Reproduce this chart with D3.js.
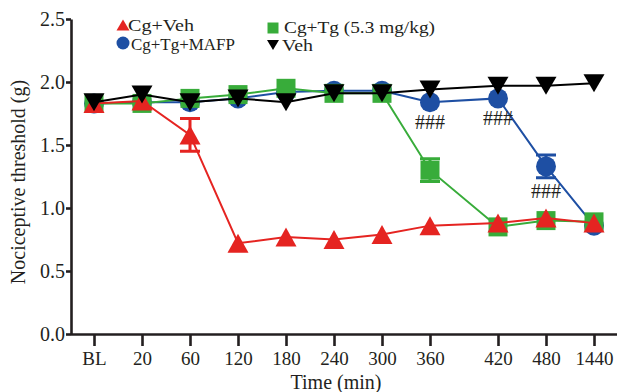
<!DOCTYPE html>
<html>
<head>
<meta charset="utf-8">
<script src="https://cdn.jsdelivr.net/npm/d3@7"></script>
<style>
  body { margin: 0; background: #fff; }
  text { font-family: "Liberation Serif", "Times New Roman", serif; fill: #231f20; }
</style>
</head>
<body>
<script>
// time points (x categories)
const timeLabels = ["BL", "20", "60", "120", "180", "240", "300", "360", "420", "480", "1440"];
const yTicks = [0, 0.5, 1.0, 1.5, 2.0, 2.5];

// nociceptive threshold (g)
const cgVeh      = [1.83, 1.85, 1.58, 0.72, 0.77, 0.75, 0.79, 0.86, 0.88, 0.92, 0.88];
const cgVehErr   = [0, 0, 0.13, 0, 0, 0, 0, 0, 0, 0, 0];
const cgTg       = [1.83, 1.83, 1.87, 1.90, 1.95, 1.91, 1.91, 1.30, 0.85, 0.90, 0.89];
const cgTgErr    = [0, 0, 0, 0, 0, 0, 0, 0.09, 0, 0, 0];
const cgTgMafp   = [1.83, 1.84, 1.84, 1.87, 1.92, 1.93, 1.93, 1.84, 1.87, 1.33, 0.86];
const cgTgMafpErr= [0, 0, 0, 0, 0, 0, 0, 0, 0, 0.09, 0];
const veh        = [1.84, 1.90, 1.84, 1.87, 1.84, 1.91, 1.91, 1.94, 1.97, 1.97, 1.99];

// "###" marks on Cg+Tg+MAFP
const sigIdx = [7, 8, 9];
const sigText = "###";

const width = 623, height = 392;
const serif = "Liberation Serif, Times New Roman, serif";

const svg = d3.select("body").append("svg")
  .attr("width", width)
  .attr("height", height);

// x is categorical but with a wider gap between 360 and 420
const x = d3.scaleLinear()
  .domain([0, 7, 8, 10])
  .range([94, 430, 498, 594]);

const y = d3.scaleLinear()
  .domain([0, 2.5])
  .range([334, 19]);

// markers (centered on bounding box)
function triUp(w, h) { return `M0,${-h/2}L${w/2},${h/2}L${-w/2},${h/2}Z`; }
function triDown(w, h) { return `M0,${h/2}L${w/2},${-h/2}L${-w/2},${-h/2}Z`; }
function square(s) { return `M${-s/2},${-s/2}h${s}v${s}h${-s}Z`; }
function circle(r) { return d3.symbol(d3.symbolCircle, Math.PI * r * r)(); }

const series = [
  { name: "Cg+Tg+MAFP", vals: cgTgMafp, err: cgTgMafpErr, color: "#1e4fa3", mark: circle(10), legMark: circle(6.5) },
  { name: "Cg+Tg (5.3 mg/kg)", vals: cgTg, err: cgTgErr, color: "#38ac3a", mark: square(19), legMark: square(11) },
  { name: "Cg+Veh", vals: cgVeh, err: cgVehErr, color: "#e52421", mark: triUp(21, 19), legMark: triUp(13, 11) },
  { name: "Veh", vals: veh, err: null, color: "#000000", mark: triDown(21, 18), legMark: triDown(12, 10) }
];

// axes
const xAxis = d3.axisBottom(x)
  .tickValues(d3.range(timeLabels.length))
  .tickFormat(i => timeLabels[i])
  .tickSize(12)
  .tickPadding(6)
  .tickSizeOuter(0);

const gx = svg.append("g")
  .attr("transform", `translate(0,${y(0)})`)
  .call(xAxis)
  .attr("font-family", serif);
gx.select(".domain").attr("d", `M71,0.5H617`);

const yAxis = d3.axisLeft(y)
  .tickValues(yTicks)
  .tickFormat(d3.format(".1f"))
  .tickSize(5)
  .tickPadding(1)
  .tickSizeOuter(0);

const gy = svg.append("g")
  .attr("transform", "translate(71,0)")
  .call(yAxis)
  .attr("font-family", serif);

svg.selectAll(".domain, .tick line")
  .attr("stroke", "#231f20")
  .attr("stroke-width", 2.6);
gx.selectAll(".tick text").attr("font-size", 19).style("font-family", serif);
gy.selectAll(".tick text").attr("font-size", 20).style("font-family", serif);

// axis titles
svg.append("text")
  .attr("x", 336).attr("y", 389)
  .attr("text-anchor", "middle")
  .attr("font-size", 20)
  .text("Time (min)");

svg.append("text")
  .attr("transform", "translate(25,182) rotate(-90)")
  .attr("text-anchor", "middle")
  .attr("font-size", 20)
  .text("Nociceptive threshold (g)");

// lines, error bars, markers
const line = d3.line()
  .x((d, i) => x(i))
  .y(d => y(d));

series.forEach(s => {
  const g = svg.append("g");
  g.append("path")
    .attr("d", line(s.vals))
    .attr("fill", "none")
    .attr("stroke", s.color)
    .attr("stroke-width", 2);

  if (s.err) {
    const eb = s.vals.map((v, i) => ({ i, v, e: s.err[i] })).filter(d => d.e > 0);
    eb.forEach(d => {
      const cx = x(d.i), y1 = y(d.v + d.e), y2 = y(d.v - d.e);
      g.append("path")
        .attr("d", `M${cx},${y1}V${y2}M${cx - 10},${y1}h20M${cx - 10},${y2}h20`)
        .attr("stroke", s.color)
        .attr("stroke-width", 3)
        .attr("fill", "none");
    });
  }

  g.selectAll(".pt")
    .data(s.vals)
    .enter()
    .append("path")
    .attr("class", "pt")
    .attr("d", s.mark)
    .attr("transform", (d, i) => `translate(${x(i)},${y(d)})`)
    .attr("fill", s.color);
});

// significance marks
svg.selectAll(".sig")
  .data(sigIdx)
  .enter()
  .append("text")
  .attr("class", "sig")
  .attr("x", i => x(i))
  .attr("y", i => cgTgMafpErr[i] > 0
    ? y(cgTgMafp[i] - cgTgMafpErr[i]) + 20
    : y(cgTgMafp[i]) + 27)
  .attr("text-anchor", "middle")
  .attr("font-size", 20)
  .text(sigText);

// legend
const legendMarks = [
  { s: series[2], x: 123, y: 25 },
  { s: series[0], x: 123, y: 43 },
  { s: series[1], x: 273, y: 28 },
  { s: series[3], x: 273, y: 45 }
];
legendMarks.forEach(r => {
  svg.append("path")
    .attr("d", r.s.legMark)
    .attr("transform", `translate(${r.x},${r.y})`)
    .attr("fill", r.s.color);
});
const legendText = [
  { t: series[2].name, x: 128, y: 31, w: 66 },
  { t: series[0].name, x: 131, y: 49.5, w: 104 },
  { t: series[1].name, x: 284, y: 32.5, w: 151 },
  { t: series[3].name, x: 282, y: 51, w: 31 }
];
legendText.forEach(d => {
  svg.append("text")
    .attr("x", d.x).attr("y", d.y)
    .attr("font-size", 16.5)
    .attr("textLength", d.w)
    .attr("lengthAdjust", "spacingAndGlyphs")
    .text(d.t);
});
</script>
</body>
</html>
